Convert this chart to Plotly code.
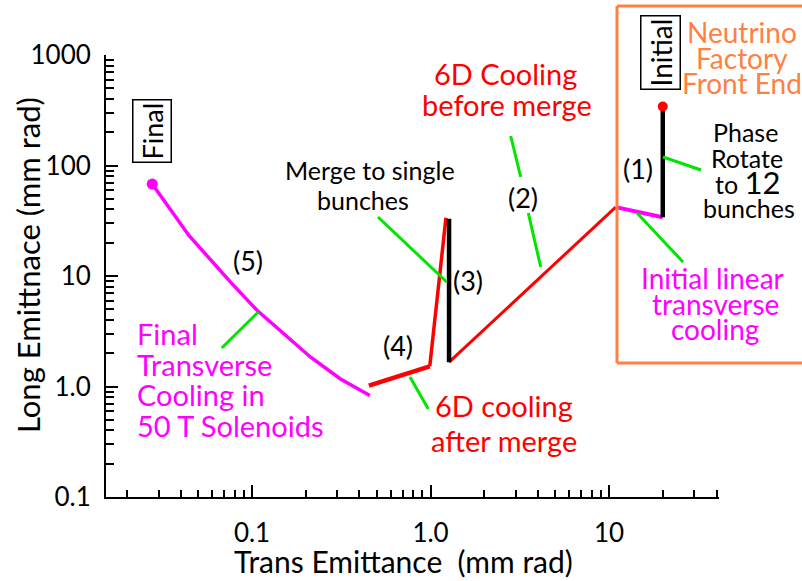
import plotly.graph_objects as go

# ---------------- data (mm rad) ----------------
# (1) phase rotation: vertical drop at constant transverse emittance
phase_rot_x = [20, 20]
phase_rot_y = [342, 34]
# initial linear transverse cooling
init_cool_x = [20, 10.9]
init_cool_y = [34, 42]
# (2) 6D cooling before merge
cool6d_before_x = [10.9, 1.27]
cool6d_before_y = [42, 1.66]
# (3) merge to single bunches
merge_x = [1.27, 1.27]
merge_y = [1.66, 33]
# (4) 6D cooling after merge
cool6d_after_steep_x = [1.22, 0.99]
cool6d_after_steep_y = [33.7, 1.52]
cool6d_after_x = [0.99, 0.451]
cool6d_after_y = [1.52, 1.02]
# (5) final transverse cooling in 50 T solenoids
final_cool_x = [0.457, 0.313, 0.213, 0.13, 0.107, 0.0758, 0.0443, 0.0276]
final_cool_y = [0.83, 1.17, 1.84, 3.69, 4.87, 8.79, 23.3, 68]
# start / end points
initial_pt_x = [20]
initial_pt_y = [342]
final_pt_x = [0.0276]
final_pt_y = [68]

x_tickvals = [0.1, 1, 10]
x_ticktext = ["0.1", "1.0", "10"]
y_tickvals = [0.1, 1, 10, 100, 1000]
y_ticktext = ["0.1", "1.0", "10", "100", "1000"]
x_minor = [0.02, 0.03, 0.04, 0.05, 0.06, 0.07, 0.08, 0.09,
           0.2, 0.3, 0.4, 0.5, 0.6, 0.7, 0.8, 0.9,
           2, 3, 4, 5, 6, 7, 8, 9, 20, 30, 40]
y_minor = [0.2, 0.3, 0.4, 0.5, 0.6, 0.7, 0.8, 0.9,
           2, 3, 4, 5, 6, 7, 8, 9,
           20, 30, 40, 50, 60, 70, 80, 90,
           200, 300, 400, 500, 600, 700, 800, 900]

# ---------------- layout geometry ----------------
W, H = 802, 581
L, R, T, B = 106, 719, 55, 497
FONT = "Lato"
RED = "#FF0000"
MAG = "#FF00FF"
GREEN = "#00E600"
ORANGE = "#FF8040"


def px(x):
    return (x - L) / (R - L)


def py(y):
    return (B - y) / (B - T)


fig = go.Figure()


def seg(x, y, color, width):
    fig.add_trace(go.Scatter(x=x, y=y, mode="lines",
                             line=dict(color=color, width=width),
                             hoverinfo="skip", showlegend=False))


seg(final_cool_x, final_cool_y, MAG, 3.5)
seg(cool6d_after_x, cool6d_after_y, RED, 4.5)
seg(cool6d_after_steep_x, cool6d_after_steep_y, RED, 3.5)
seg(cool6d_before_x, cool6d_before_y, RED, 3)
seg(merge_x, merge_y, "black", 4.5)
seg(init_cool_x, init_cool_y, MAG, 4)
seg(phase_rot_x, phase_rot_y, "black", 4.5)

fig.add_trace(go.Scatter(x=initial_pt_x, y=initial_pt_y, mode="markers",
                         marker=dict(color=RED, size=10), showlegend=False))
fig.add_trace(go.Scatter(x=final_pt_x, y=final_pt_y, mode="markers",
                         marker=dict(color=MAG, size=11), showlegend=False))

annotations = []


def txt(s, x, y, size, color="black", xanchor="center", angle=0, box=False):
    a = dict(text=s, x=px(x), y=py(y), xref="paper", yref="paper",
             xanchor=xanchor, yanchor="middle", showarrow=False,
             font=dict(family=FONT, size=size, color=color), textangle=angle)
    if box:
        a.update(bordercolor="black", borderwidth=1.5, borderpad=2, bgcolor="white")
    annotations.append(a)


# boxed labels
txt("Final", 152, 131, 27, angle=-90, box=True)
txt("Initial", 660, 53, 28, angle=-90, box=True)

# Neutrino factory
for s, y in [("Neutrino", 32), ("Factory", 58), ("Front End", 83)]:
    txt(s, 742, y, 28, ORANGE)

# Phase rotate
txt("Phase", 745, 132, 25)
txt("Rotate", 747, 158, 25)
txt("to <span style='font-size:31px'>12</span>", 747, 182, 25)
txt("bunches", 749, 208, 25)

# Initial linear transverse cooling
txt("Initial linear", 712, 278, 28, MAG)
txt("transverse", 715, 304, 28, MAG)
txt("cooling", 715, 329, 28, MAG)

# 6D Cooling before merge
txt("6D Cooling", 505, 74, 29, RED)
txt("before merge", 507, 104, 29, RED)

# Merge to single bunches
txt("Merge to single", 370, 170, 25)
txt("bunches", 363, 200, 25)

# 6D cooling after merge
txt("6D cooling", 504, 405, 29, RED)
txt("after merge", 504, 440, 29, RED)

# Final transverse cooling
txt("Final", 135, 333, 29, MAG, xanchor="left")
txt("Transverse", 135, 364, 29, MAG, xanchor="left")
txt("Cooling in", 135, 394, 29, MAG, xanchor="left")
txt("50 T Solenoids", 135, 425, 29, MAG, xanchor="left")

# stage numbers
for s, x, y in [("(1)", 638, 168), ("(2)", 523, 197), ("(3)", 468, 280),
                ("(4)", 398, 345), ("(5)", 248, 260)]:
    txt(s, x, y, 27)

# axis titles
txt("Long Emittnace (mm rad)", 28, 265, 31, angle=-90)
txt("Trans Emittance\u00a0 (mm rad)", 403, 561, 30)

shapes = []


def gline(x0, y0, x1, y1):
    shapes.append(dict(type="line", xref="paper", yref="paper",
                       x0=px(x0), y0=py(y0), x1=px(x1), y1=py(y1),
                       line=dict(color=GREEN, width=3)))


gline(663, 157, 701, 170)     # phase rotate
gline(637, 213, 683, 262)     # initial linear
gline(510.7, 136, 520.7, 177)  # (2) upper
gline(528.3, 213, 540.7, 267)  # (2) lower
gline(378, 217, 446.7, 282)   # merge
gline(221.7, 348, 258.3, 312)  # final transverse
gline(410, 377, 428.3, 409)   # 6D after merge


# orange frame around Neutrino Factory front end (runs off the right edge)
def oline(x0, y0, x1, y1):
    shapes.append(dict(type="line", xref="paper", yref="paper",
                       x0=px(x0), y0=py(y0), x1=px(x1), y1=py(y1),
                       line=dict(color=ORANGE, width=3)))


oline(617, 6, 617, 363)
oline(617, 6, 802, 6)
oline(617, 363, 802, 363)

axis_common = dict(type="log", showgrid=False, zeroline=False,
                   showline=True, linecolor="black", linewidth=2,
                   ticks="inside", ticklen=12, tickwidth=2, tickcolor="black",
                   tickmode="array",
                   tickfont=dict(family=FONT, size=26, color="black"))

fig.update_layout(
    width=W, height=H,
    margin=dict(l=L, r=W - R, t=T, b=H - B),
    paper_bgcolor="white", plot_bgcolor="white",
    showlegend=False,
    xaxis=dict(axis_common, range=[-1.818, 1.616],
               tickvals=x_tickvals, ticktext=x_ticktext,
               ticklabelstandoff=12,
               minor=dict(tickmode="array", tickvals=x_minor, ticks="inside",
                          ticklen=7, tickwidth=1.5, tickcolor="black", showgrid=False)),
    yaxis=dict(axis_common, range=[-1, 3],
               tickvals=y_tickvals, ticktext=y_ticktext,
               ticklabelstandoff=8,
               minor=dict(tickmode="array", tickvals=y_minor, ticks="inside",
                          ticklen=8, tickwidth=1.5, tickcolor="black", showgrid=False)),
    annotations=annotations,
    shapes=shapes,
    font=dict(family=FONT),
)

fig.write_html("out.html", config={"displayModeBar": False},
               post_script="document.body.style.margin='0';document.body.style.overflow='hidden';")
